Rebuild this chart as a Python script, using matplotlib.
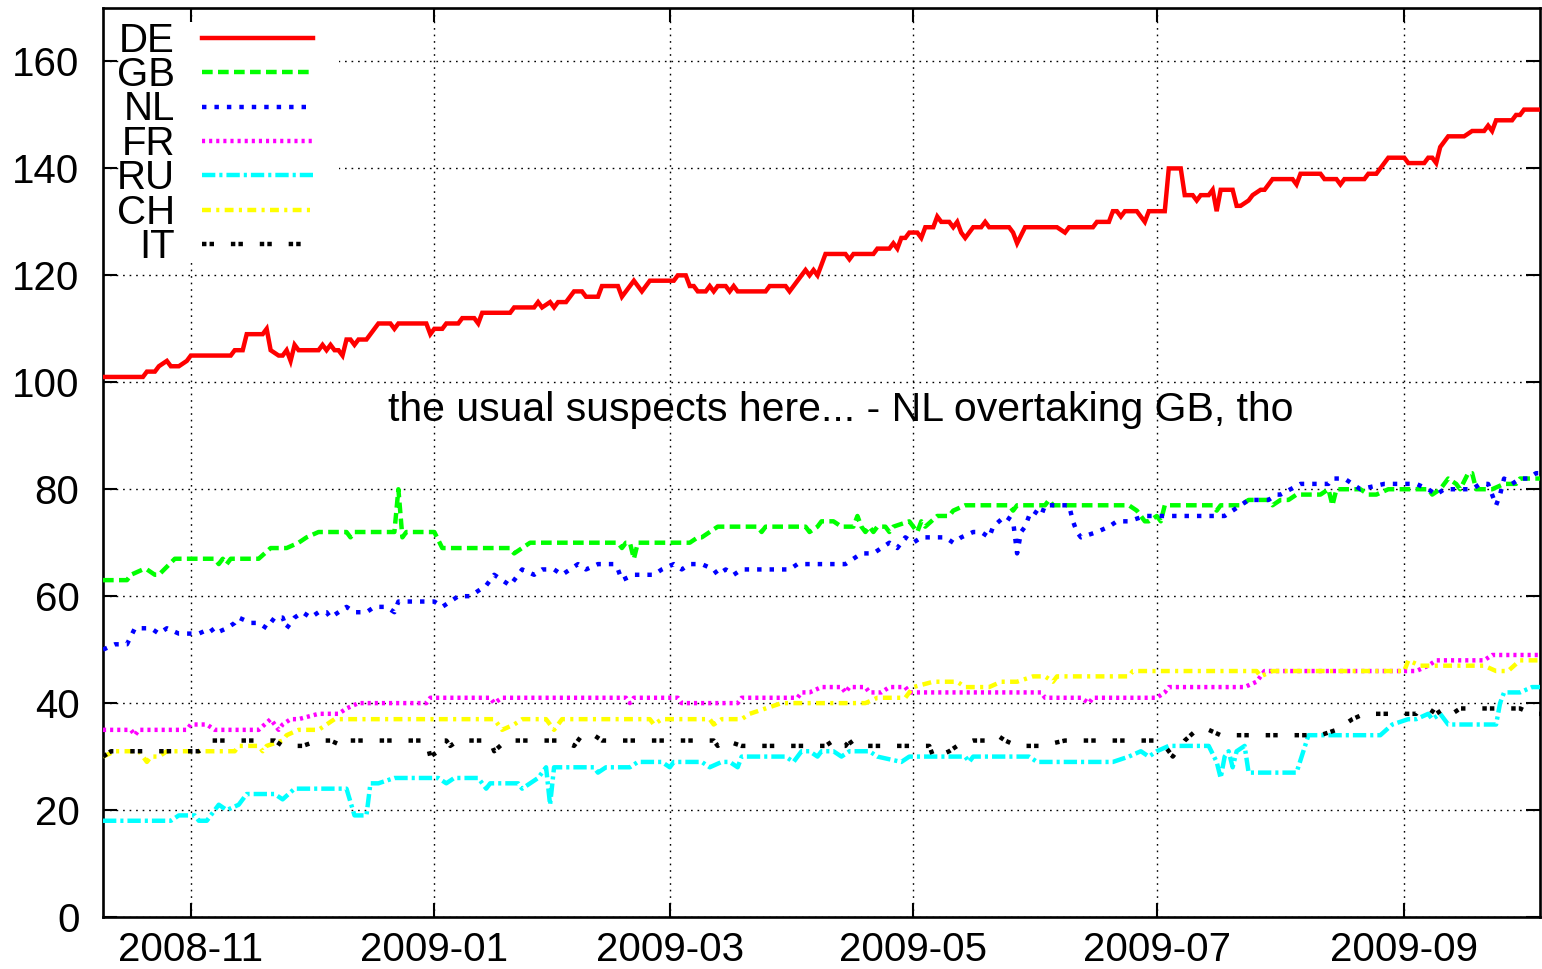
import numpy as np
import matplotlib
matplotlib.use("Agg")
import matplotlib.pyplot as plt
import matplotlib.dates as mdates
from matplotlib.patches import Rectangle

plt.rcParams['font.family'] = ['Liberation Sans', 'DejaVu Sans']

START = np.datetime64('2008-10-10')

# day offsets from START
DE_DAY = [0,10,11,13,14,16,17,19,21,22,32,33,35,36,40,41,42,44,45,46,47,48,49,54,55,56,57,58,59,60,61,62,63,64,66,69,72,73,74,81,82,83,85,86,89,90,93,94,95,102,103,108,109,110,112,113,114,116,118,120,121,124,125,129,130,133,135,137,143,144,146,147,148,149,151,152,153,154,156,157,158,159,166,167,171,172,176,177,178,179,181,186,187,188,193,194,197,198,199,200,201,202,204,205,206,208,209,210,212,213,214,215,216,218,220,221,222,227,228,229,231,239,241,242,248,249,252,253,254,255,256,259,261,262,266,267,270,271,273,274,275,277,278,279,280,283,284,285,287,288,290,291,293,298,299,300,305,306,309,310,311,316,317,319,322,326,327,331,332,333,334,335,337,341,343,346,347,348,349,353,354,355,356,360]
DE_VAL = [101,101,102,102,103,104,103,103,104,105,105,106,106,109,109,110,106,105,105,106,104,107,106,106,107,106,107,106,106,105,108,108,107,108,108,111,111,110,111,111,109,110,110,111,111,112,112,111,113,113,114,114,115,114,115,114,115,115,117,117,116,116,118,118,116,119,117,119,119,120,120,118,118,117,117,118,117,118,118,117,118,117,117,118,118,117,121,120,121,120,124,124,123,124,124,125,125,126,125,127,127,128,128,127,129,129,131,130,130,129,130,128,127,129,129,130,129,129,128,126,129,129,128,129,129,130,130,132,132,131,132,132,130,132,132,140,140,135,135,134,135,135,136,132,136,136,133,133,134,135,136,136,138,138,137,139,139,138,138,137,138,138,139,139,142,142,141,141,142,142,141,144,146,146,147,147,148,147,149,149,150,150,151,151]

GB_DAY = [0,6,7,10,11,13,14,18,28,29,30,31,32,39,42,46,49,51,54,61,62,63,73,74,75,76,83,85,86,102,103,107,129,130,131,132,133,134,144,147,149,150,152,154,164,165,166,176,177,179,180,183,185,188,189,190,191,192,193,194,196,197,198,202,203,204,205,206,209,212,213,216,227,228,229,236,237,238,257,259,261,262,264,265,266,278,279,280,285,287,292,293,295,297,299,305,307,308,309,315,317,319,322,332,333,335,337,339,340,342,343,344,348,351,354,355,360]
GB_VAL = [63,63,64,65,65,64,64,67,67,66,67,66,67,67,69,69,70,71,72,72,71,72,72,80,71,72,72,69,69,69,68,70,70,69,70,70,67,70,70,70,71,71,72,73,73,72,73,73,72,73,74,74,73,73,75,73,72,73,72,73,73,72,73,74,73,72,74,73,75,75,76,77,77,76,77,77,78,77,77,76,74,74,75,74,77,77,76,77,77,78,78,77,78,78,79,79,80,77,80,80,79,79,80,80,79,80,82,81,80,83,83,80,80,81,81,82,82]

NL_DAY = [0,3,6,8,12,14,16,19,21,24,27,28,31,33,34,37,39,41,43,45,46,48,50,52,54,56,57,61,63,66,68,71,73,74,83,85,87,89,92,94,96,98,100,102,104,105,108,110,113,115,117,119,121,124,126,128,129,130,133,138,140,143,145,147,150,153,154,156,158,160,172,174,186,188,190,193,195,197,199,201,203,205,207,210,211,213,215,218,220,222,223,226,228,229,230,231,232,233,235,236,242,243,244,245,249,252,254,257,261,281,283,285,287,292,294,295,300,307,308,311,313,315,321,329,332,334,336,343,345,347,348,349,350,351,353,355,357,359,360]
NL_VAL = [50,51,51,54,54,53,54,53,53,53,54,53,54,55,56,55,55,54,56,56,54,56,57,56,57,57,56,58,57,57,58,58,57,59,59,58,59,60,60,61,62,64,63,62,64,65,64,65,65,64,65,66,65,66,66,66,65,63,64,64,65,66,65,66,66,65,64,65,64,65,65,66,66,67,68,68,69,70,69,71,70,71,71,71,71,70,71,72,72,71,73,75,74,68,72,73,75,76,75,77,77,74,72,71,72,73,74,74,75,75,76,77,78,78,79,79,81,81,82,82,81,80,81,81,80,79,80,80,81,81,79,77,79,82,81,82,82,83,83]

FR_DAY = [0,7,8,9,21,22,26,28,39,42,44,45,47,49,54,59,61,64,81,82,97,98,100,131,132,133,144,145,157,159,160,174,175,177,180,185,186,187,191,192,194,195,197,201,202,203,235,236,245,247,248,250,264,266,267,286,289,291,326,329,332,334,346,348,360]
FR_VAL = [35,35,34,35,35,36,36,35,35,37,35,36,37,37,38,38,39,40,40,41,41,40,41,41,40,41,41,40,40,40,41,41,42,42,43,43,42,43,43,42,42,42,43,43,42,42,42,41,41,40,41,41,41,42,43,43,44,46,46,46,47,48,48,49,49]

RU_DAY = [0,17,19,23,24,26,28,29,31,34,36,43,45,48,61,63,66,67,69,73,84,86,88,94,96,97,104,105,107,109,111,112,113,123,124,126,132,134,140,142,143,150,152,155,157,159,160,171,173,175,177,179,180,183,185,187,192,194,200,202,216,217,218,232,234,253,257,260,262,264,267,277,279,280,281,282,283,284,286,287,299,302,317,320,323,327,329,332,333,335,337,341,349,350,351,355,358,360]
RU_VAL = [18,18,19,19,18,18,20,21,20,21,23,23,22,24,24,19,19,25,25,26,26,25,26,26,24,25,25,24,25,26,28,21,28,28,27,28,28,29,29,28,29,29,28,29,29,28,30,30,29,31,31,30,31,31,30,31,31,30,29,30,30,29,30,30,29,29,30,31,30,31,32,32,29,26,30,31,28,31,32,27,27,34,34,34,36,37,37,38,37,38,36,36,36,40,42,42,43,43]

CH_DAY = [0,3,9,11,12,14,16,33,34,39,40,41,45,46,49,54,56,58,98,100,103,105,111,113,115,137,138,140,152,153,155,160,162,166,170,191,194,201,203,208,214,216,222,225,229,233,236,238,239,257,258,289,290,293,326,327,330,346,349,352,355,360]
CH_VAL = [30,31,31,29,30,30,31,31,32,32,31,32,33,34,35,35,36,37,37,35,36,37,37,35,37,37,36,37,37,36,37,37,38,39,40,40,41,41,43,44,44,43,43,44,44,45,45,44,45,45,46,46,45,46,46,48,47,47,46,46,48,48]

IT_DAY = [0,2,24,26,27,43,45,50,54,57,60,61,81,82,84,85,86,87,89,97,98,101,115,118,120,123,125,153,154,156,160,181,183,184,186,187,188,207,208,209,212,214,218,221,224,226,229,235,241,264,266,268,270,271,274,277,280,305,309,311,313,316,326,329,330,332,334,336,338,340,349,352,355,358,360]
IT_VAL = [30,31,31,32,33,33,32,32,33,33,32,33,33,30,31,33,33,32,33,33,31,33,33,32,34,34,33,33,32,33,32,32,33,32,32,33,32,32,30,30,31,32,33,33,34,33,32,32,33,33,32,30,32,33,35,35,34,34,35,36,37,38,38,38,39,39,38,39,38,39,39,39,39,38,38]

LW = 3.2
FS = 29

SERIES = [
    ('DE', DE_DAY, DE_VAL, '#ff0000', None),
    ('GB', GB_DAY, GB_VAL, '#00ff00', (2.4, 1.2)),
    ('NL', NL_DAY, NL_VAL, '#0000ff', (1.0, 1.8)),
    ('FR', FR_DAY, FR_VAL, '#ff00ff', (0.7, 0.9)),
    ('RU', RU_DAY, RU_VAL, '#00ffff', (3.0, 0.9, 0.7, 0.9)),
    ('CH', CH_DAY, CH_VAL, '#ffff00', (2.0, 1.2, 0.7, 1.2)),
    ('IT', IT_DAY, IT_VAL, '#000000', (1.0, 0.7, 1.0, 3.8)),
]

fig = plt.figure(figsize=(15.42, 9.69), dpi=100)
ax = fig.add_axes([103/1542, 52/969, 1437/1542, 909/969])

for name, days, vals, color, dash in SERIES:
    dates = START + np.array(days).astype('timedelta64[D]')
    line, = ax.plot(dates, vals, color=color, lw=LW, zorder=3,
                    solid_joinstyle='miter', dash_capstyle='butt')
    if dash is not None:
        line.set_dashes(dash)

ax.set_xlim(START, START + np.timedelta64(360, 'D'))
ax.set_ylim(0, 170)
ax.set_yticks(range(0, 161, 20))
ticks = [np.datetime64(d) for d in ['2008-11-01', '2009-01-01', '2009-03-01',
                                     '2009-05-01', '2009-07-01', '2009-09-01']]
ax.set_xticks(ticks)
ax.xaxis.set_major_formatter(mdates.DateFormatter('%Y-%m'))

ax.grid(True, color='black', lw=1.0, ls=(0, (1.2, 3.5)))
ax.tick_params(direction='in', length=10, width=1.5, labelsize=FS,
               top=True, right=True)
ax.tick_params(axis='x', pad=10)
ax.tick_params(axis='y', pad=17)
for s in ax.spines.values():
    s.set_linewidth(1.9)

# opaque key area like gnuplot's
ax.add_patch(Rectangle((0.012, 0.72), 0.152, 0.265, transform=ax.transAxes,
                       facecolor='white', edgecolor='none', zorder=2))
for i, (name, days, vals, color, dash) in enumerate(SERIES):
    y = 0.967 - i * 0.0378
    ax.text(0.0501, y - 0.003, name, transform=ax.transAxes, ha='right',
            va='center', fontsize=FS, zorder=4)
    ln, = ax.plot([0.0689, 0.1461], [y, y], transform=ax.transAxes,
                  color=color, lw=LW, zorder=4, dash_capstyle='butt')
    if dash is not None:
        ln.set_dashes(dash)

ax.text(0.1983, 0.5578, 'the usual suspects here... - NL overtaking GB, tho',
        transform=ax.transAxes, ha='left', va='center', fontsize=29.5)

fig.savefig('out.png', dpi=100, facecolor='white')
